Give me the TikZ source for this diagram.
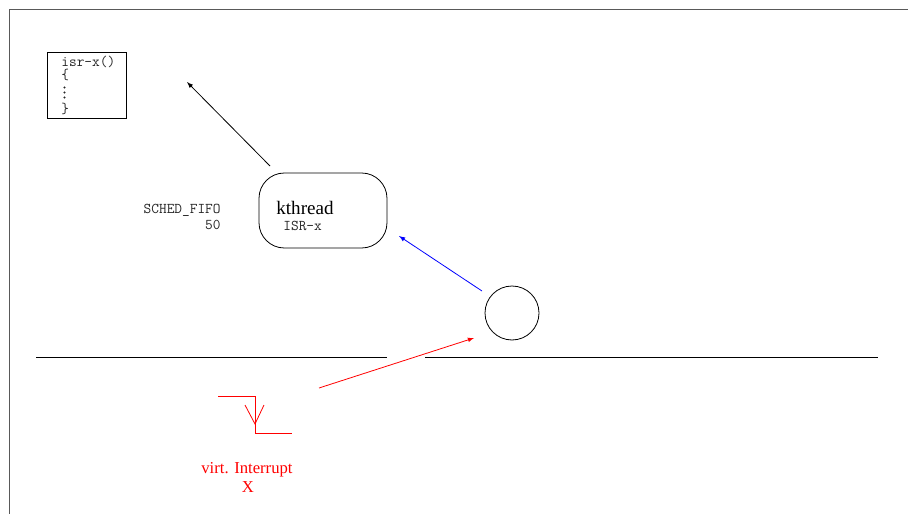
\documentclass[tikz,border=0pt]{standalone}
\usepackage{fontspec}
\setmainfont{Liberation Serif}
\usetikzlibrary{arrows}

\begin{document}
\begin{tikzpicture}[x=0.75pt,y=-0.75pt,line width=0.6pt]
  \tikzstyle{every node}=[inner sep=0pt]
  \tikzstyle{code}=[black!85,font=\fontsize{11.2}{9}\selectfont\ttfamily]
  \tikzstyle{big}=[font=\fontsize{14.3}{16}\selectfont]
  \tikzstyle{irq}=[red,font=\fontsize{12.5}{14}\selectfont]
  \useasboundingbox (0,0) rectangle (908,514);
  % frame, only top and left edges
  \draw[gray!70!black] (908,9) -- (9,9) -- (9,514);
  % handler routine
  \node[draw,minimum width=59.25pt,minimum height=49.5pt] (isr) at (86.5,85) {};
  \node[code,anchor=west] (isrname) at (61,61.5) {isr-x()};
  \node[code,align=left,anchor=north west] (isrbody) at (61,68.5)
    {\{\\[16.5pt]\}};
  \foreach \y in {87.5,92.5,97.5}
    \fill[black!85] (64.5,\y) circle (1.1);
  % the kernel thread
  \node[draw,rounded corners=19pt,minimum width=96pt,minimum height=56.25pt] (kthr) at (323,210.5) {};
  \node[big,anchor=west] (kname) at (276,208) {kthread};
  \node[code,anchor=west] (kisr) at (283,225.5) {ISR-x};
  \node[code,anchor=east] (prio) at (221,210) {SCHED\_FIFO};
  \node[code,anchor=east] (prionum) at (221,224.5) {50};
  % the dispatcher
  \node[draw,circle,minimum size=40.5pt] (disp) at (512,313) {};
  % boundary
  \draw (36,357) -- (387,357);
  \draw (425,357) -- (878,357);
  % interrupt symbol
  \draw[red] (218,396) -- (255,396) -- (255,433) -- (292,433);
  \draw[red] (245,405) -- (255,424) -- (264,405);
  \node[irq] (vint) at (247,470) {virt. Interrupt};
  \node[irq] (vx) at (248,487) {X};
  % arrows
  \coordinate (a1) at (270,166);
  \coordinate (a2) at (187,82);
  \coordinate (b1) at (482,291);
  \coordinate (b2) at (399,236);
  \coordinate (c1) at (319,388);
  \coordinate (c2) at (474,338);
  \draw[-latex] (a1) -- (a2);
  \draw[-latex,blue] (b1) -- (b2);
  \draw[-latex,red] (c1) -- (c2);
\end{tikzpicture}
\end{document}
